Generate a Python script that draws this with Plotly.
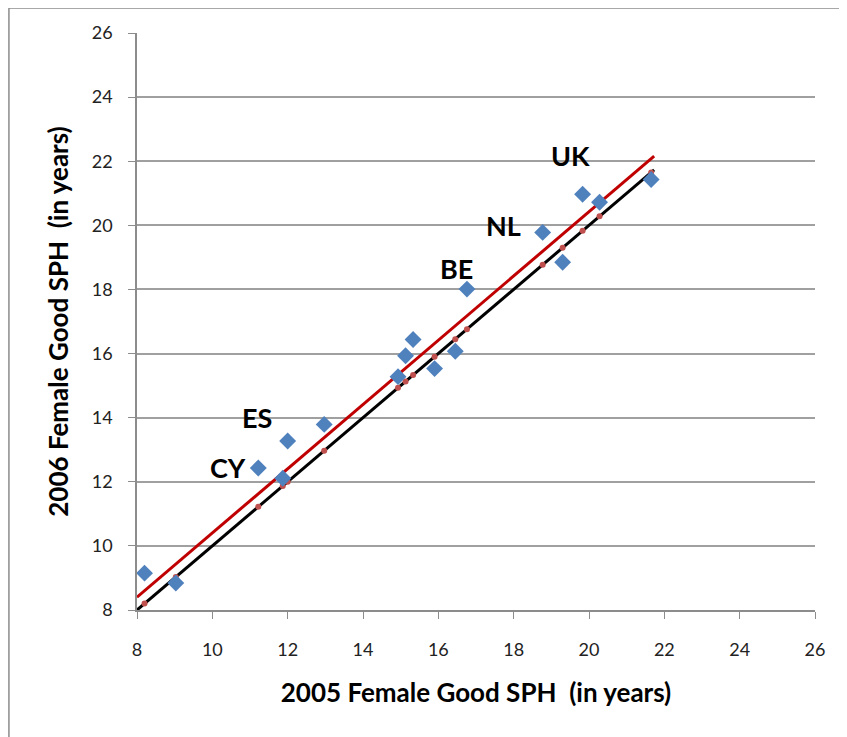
import numpy as np
import plotly.graph_objects as go

# 2005 vs 2006 female good self-perceived health (years)
sph_2005 = [8.20, 9.03, 11.22, 12.00, 12.97, 11.87, 14.93, 15.13, 15.33,
            15.90, 16.45, 16.76, 18.77, 19.30, 19.83, 20.28, 21.65]
sph_2006 = [9.15, 8.84, 12.43, 13.27, 13.79, 12.11, 15.28, 15.93, 16.44,
            15.53, 16.07, 18.01, 19.78, 18.85, 20.97, 20.72, 21.43]

# trend line as drawn in the chart
trend_slope = 1.002
trend_intercept = 0.384

# country labels and where they sit (data units)
label_text = ["CY", "ES", "BE", "NL", "UK"]
label_x = [10.42, 11.19, 16.47, 17.74, 19.52]
label_y = [12.46, 14.02, 18.64, 19.98, 22.19]

tick_vals = [8, 10, 12, 14, 16, 18, 20, 22, 24, 26]

x = np.array(sph_2005)
y = np.array(sph_2006)
line_x = np.array([8, x.max() + 0.08])

font = "Lato, Calibri, Carlito, 'Liberation Sans', Arial, sans-serif"

fig = go.Figure()
# y = x reference
fig.add_trace(go.Scatter(x=line_x, y=line_x, mode="lines",
                         line=dict(color="black", width=3), hoverinfo="skip"))
# linear trend
fig.add_trace(go.Scatter(x=line_x, y=trend_slope * line_x + trend_intercept,
                         mode="lines", line=dict(color="#C00000", width=3),
                         hoverinfo="skip"))
# points on the diagonal
fig.add_trace(go.Scatter(x=x, y=x, mode="markers",
                         marker=dict(color="#C0504D", size=6)))
fig.add_trace(go.Scatter(x=x, y=y, mode="markers",
                         marker=dict(symbol="diamond", color="#4F81BD", size=13)))

for t, lx, ly in zip(label_text, label_x, label_y):
    fig.add_annotation(x=lx, y=ly, text="<b>%s</b>" % t, showarrow=False,
                       font=dict(size=27, color="black", family=font))

# chart border (the page body adds 8px, so the left edge sits near x=7)
fig.add_shape(type="rect", xref="paper", yref="paper",
              x0=-0.1889, x1=1.06, y0=-0.24, y1=1.0433,
              line=dict(color="#8C8C8C", width=1.5), layer="below")

fig.update_layout(
    width=839, height=729,
    margin=dict(l=129, r=32, t=25, b=127),
    plot_bgcolor="white", paper_bgcolor="white",
    showlegend=False,
    font=dict(family=font, size=18, color="#222222"),
)
fig.update_xaxes(
    range=[8, 26], tickvals=tick_vals, showgrid=False, zeroline=False,
    showline=True, linecolor="#8C8C8C", linewidth=1.5,
    ticks="outside", ticklen=7, tickcolor="#8C8C8C", ticklabelstandoff=16,
    title=dict(text="<b>2005 Female Good SPH  (in years)</b>",
               font=dict(size=26, color="black"), standoff=24),
)
fig.update_yaxes(
    range=[8, 26], tickvals=tick_vals, showgrid=True, gridcolor="#A0A0A0",
    gridwidth=1.5, zeroline=False,
    showline=True, linecolor="#8C8C8C", linewidth=1.5,
    ticks="outside", ticklen=7, tickcolor="#8C8C8C", ticklabelstandoff=12,
    title=dict(text="<b>2006 Female Good SPH  (in years)</b>",
               font=dict(size=26, color="black"), standoff=16),
)

fig.write_html("out.html")
